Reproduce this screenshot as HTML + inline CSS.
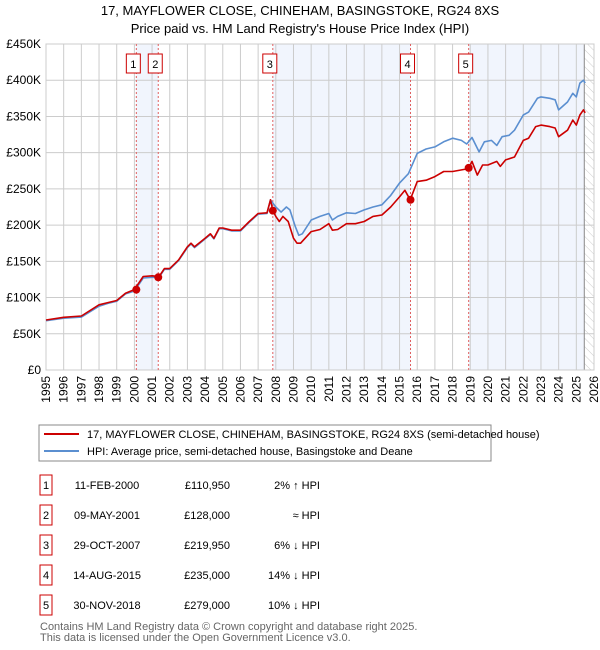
<!DOCTYPE html>
<html><head><meta charset="utf-8"><style>
body{margin:0;background:#fff;font-family:"Liberation Sans","DejaVu Sans",sans-serif;}
#wrap{position:relative;width:600px;height:650px;overflow:hidden;}
</style></head><body>
<div id="wrap">
<svg id="svg" width="600" height="650" font-family="Liberation Sans, DejaVu Sans, sans-serif">
<text x="300" y="15" text-anchor="middle" font-size="13">17, MAYFLOWER CLOSE, CHINEHAM, BASINGSTOKE, RG24 8XS</text>
<text x="300" y="33" text-anchor="middle" font-size="13">Price paid vs. HM Land Registry's House Price Index (HPI)</text>
<defs><pattern id="hatch" width="6" height="6" patternUnits="userSpaceOnUse" patternTransform="rotate(-45)"><line x1="0" y1="0" x2="0" y2="6" stroke="#ccc" stroke-width="1"/></pattern></defs>
<g id="plot"></g>
<rect x="39" y="425" width="452" height="36" fill="#fff" stroke="#888"/>
<line x1="44" y1="434" x2="79" y2="434" stroke="#cc0000" stroke-width="2"/>
<text x="87" y="438" font-size="11">17, MAYFLOWER CLOSE, CHINEHAM, BASINGSTOKE, RG24 8XS (semi-detached house)</text>
<line x1="44" y1="451" x2="79" y2="451" stroke="#5b8fd0" stroke-width="2"/>
<text x="87" y="455" font-size="11">HPI: Average price, semi-detached house, Basingstoke and Deane</text>
<g id="table"></g>
<text x="40" y="630" font-size="11" fill="#666">Contains HM Land Registry data © Crown copyright and database right 2025.</text>
<text x="40" y="641" font-size="11" fill="#666">This data is licensed under the Open Government Licence v3.0.</text>
</svg>
</div>
<script>
const years=[1995,1996,1997,1998,1999,2000,2001,2002,2003,2004,2005,2006,2007,2008,2009,2010,2011,2012,2013,2014,2015,2016,2017,2018,2019,2020,2021,2022,2023,2024,2025,2026];
const yTicks=[0,50,100,150,200,250,300,350,400,450];
const hpiT=[1995,1996,1997,1998,1998.5,1999,1999.5,2000,2000.5,2001,2001.4,2001.7,2002,2002.5,2003,2003.2,2003.4,2004,2004.3,2004.5,2004.8,2005,2005.5,2006,2006.5,2007,2007.5,2007.7,2008,2008.3,2008.6,2008.8,2009.1,2009.3,2009.5,2010,2010.5,2011,2011.2,2011.5,2012,2012.5,2013,2013.5,2014,2014.5,2015,2015.5,2016,2016.5,2017,2017.5,2018,2018.5,2018.8,2019.1,2019.5,2019.8,2020.2,2020.5,2020.8,2021.2,2021.5,2022,2022.3,2022.8,2023,2023.5,2023.8,2024,2024.5,2024.8,2025,2025.2,2025.4,2025.5];
const hpiV=[68,71.5,73,88,92,95,105,109,127,128,128,139,139,151,169,174,169,181,187,181,195,195,192,192,204,215,216,235,225,218,225,221,198,186,188,207,212,216,207,212,217,216,221,225,228,241,258,271,299,305,308,315,320,317,312,321,301,315,317,310,322,324,331,352,356,375,377,375,373,359,370,382,377,396,400,396];
const redT=[1995,1996,1997,1998,1998.5,1999,1999.5,2000,2000.5,2001,2001.4,2001.7,2002,2002.5,2003,2003.2,2003.4,2004,2004.3,2004.5,2004.8,2005,2005.5,2006,2006.5,2007,2007.5,2007.7,2007.83,2008,2008.2,2008.4,2008.7,2009,2009.2,2009.4,2010,2010.5,2011,2011.2,2011.5,2012,2012.5,2013,2013.5,2014,2014.5,2015,2015.3,2015.6,2016,2016.5,2017,2017.5,2018,2018.9,2019.1,2019.4,2019.7,2020,2020.5,2020.7,2021,2021.5,2022,2022.3,2022.7,2023,2023.5,2023.8,2024,2024.5,2024.8,2025,2025.2,2025.4,2025.5];
const redV=[69,72.7,74.5,90,93,96,106,111,129,130,129,140,140,152,170,175,170,182,188,182,196,196,193,193,205,216,217,235,220,212,205,212,205,182,175,175,191,194,202,193,194,202,202,205,212,214,225,239,248,235,260,262,267,274,274,278,288,269,283,283,288,281,290,294,317,320,336,338,336,334,322,331,345,338,352,359,355];
const saleT=[2000.11,2001.35,2007.83,2015.62,2018.91];
const saleV=[110.95,128,219.95,235,279];
const saleLabels=["1","2","3","4","5"];
const saleDates=["11-FEB-2000","09-MAY-2001","29-OCT-2007","14-AUG-2015","30-NOV-2018"];
const salePrices=["£110,950","£128,000","£219,950","£235,000","£279,000"];
const saleDiff=["2% ↑ HPI","≈ HPI","6% ↓ HPI","14% ↓ HPI","10% ↓ HPI"];
const dataEnd=2025.45;

const NS="http://www.w3.org/2000/svg";
const L=46,R=594,T=44,B=370;
const X=t=>L+(t-1995)/(2026-1995)*(R-L);
const Y=v=>B-v/450*(B-T);
const g=document.getElementById('plot');
function mk(tag,a,parent){const e=document.createElementNS(NS,tag);for(const k in a)e.setAttribute(k,a[k]);(parent||g).appendChild(e);return e;}
for(let i=0;i<saleT.length;i+=2){
  const x0=X(saleT[i]);const x1=i+1<saleT.length?X(saleT[i+1]):X(dataEnd);
  const r=mk('rect',{x:x0,y:T,width:x1-x0,height:B-T,fill:'#eef3fc',opacity:0.8});
  
  
}
const h=mk('rect',{x:X(dataEnd),y:T,width:R-X(dataEnd),height:B-T,fill:'url(#hatch)'});


yTicks.forEach(v=>{
  const l=mk('line',{x1:L,x2:R,y1:Y(v),y2:Y(v),stroke:'#cccccc','stroke-width':1});
  
  
  const t=mk('text',{x:L-5,y:Y(v)+4,'text-anchor':'end','font-size':12});
  t.textContent=v===0?'£0':'£'+v+'K';
  
  
});
years.forEach(yr=>{
  const l=mk('line',{x1:X(yr),x2:X(yr),y1:T,y2:B,stroke:'#cccccc','stroke-width':1});
  
  
  const t=mk('text',{x:0,y:0,'font-size':12,'text-anchor':'end',transform:`translate(${X(yr)+4},${B+6}) rotate(-90)`});
  t.textContent=yr;
  
  
});
const bl=mk('line',{x1:X(dataEnd),x2:X(dataEnd),y1:T,y2:B,stroke:'#888','stroke-width':1});


const fr=mk('rect',{x:L,y:T,width:R-L,height:B-T,fill:'none',stroke:'#cccccc'});


saleT.forEach((t,i)=>{
  const l=mk('line',{x1:X(t),x2:X(t),y1:T,y2:B,stroke:'#e06060','stroke-width':1,'stroke-dasharray':'2,2'});
  
  
  const bx=mk('rect',{x:X(t)-10,y:54,width:14,height:19,fill:'#fff',stroke:'#cc0000'});
  
  
  const tx=mk('text',{x:X(t)-3,y:68,'text-anchor':'middle','font-size':11});
  tx.textContent=saleLabels[i];
  
  
});
function path(ts,vs,color,name){
  const d=ts.map((t,i)=>(i?'L':'M')+X(t).toFixed(1)+','+Y(vs[i]).toFixed(1)).join('');
  const p=mk('path',{d:d,fill:'none',stroke:color,'stroke-width':1.6,'stroke-linejoin':'round'});
  
  
}
path(hpiT,hpiV,'#5b8fd0','hpi-line');
path(redT,redV,'#cc0000','property-price-line');
saleT.forEach((t,i)=>{
  const c=mk('circle',{cx:X(t),cy:Y(saleV[i]),r:4,fill:'#cc0000'});
  
  
});
const tb=document.getElementById('table');
saleLabels.forEach((lab,i)=>{
  const y=485+i*30;
  const r=mk('rect',{x:40,y:y-10,width:12,height:20,fill:'#fff',stroke:'#cc0000'},tb);
  
  
  const vals=[[46,lab,'middle'],[107,saleDates[i],'middle'],[230,salePrices[i],'end'],[320,saleDiff[i],'end']];
  const names=['table-row-number','table-date','table-price','table-hpi-diff'];
  vals.forEach((v,j)=>{
    const t=mk('text',{x:v[0],y:y+4,'text-anchor':v[2],'font-size':11},tb);
    t.textContent=v[1];
    
    
  });
});
</script>
</body></html>
